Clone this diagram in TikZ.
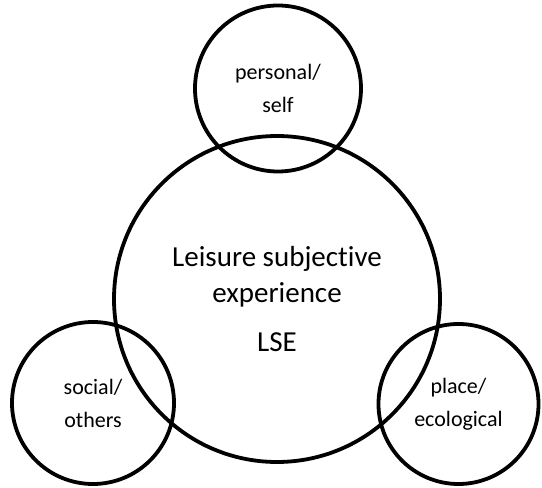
\documentclass[tikz,border=0pt]{standalone}
\usepackage{fontspec}
\setmainfont{Carlito}[Ligatures=NoCommon]
\begin{document}
\begin{tikzpicture}[x=1pt,y=1pt,
ring/.style={draw,line width=3.8pt,circle,inner sep=0pt,align=center,font=\fontsize{22}{33}\selectfont}]
\useasboundingbox(0,0)rectangle(542,488);
\draw(277,189)node[ring,minimum size=326pt,font=\fontsize{29}{36}\selectfont](lse){Leisure subjective\\experience\\[13pt]LSE};
\draw(278,399.5)node[ring,minimum size=166pt](self){personal/\\self};
\draw(93,85)node[ring,minimum size=162pt](others){social/\\others};
\draw(458.5,84)node[ring,minimum size=160pt](place){place/\\ecological};
\end{tikzpicture}
\end{document}
